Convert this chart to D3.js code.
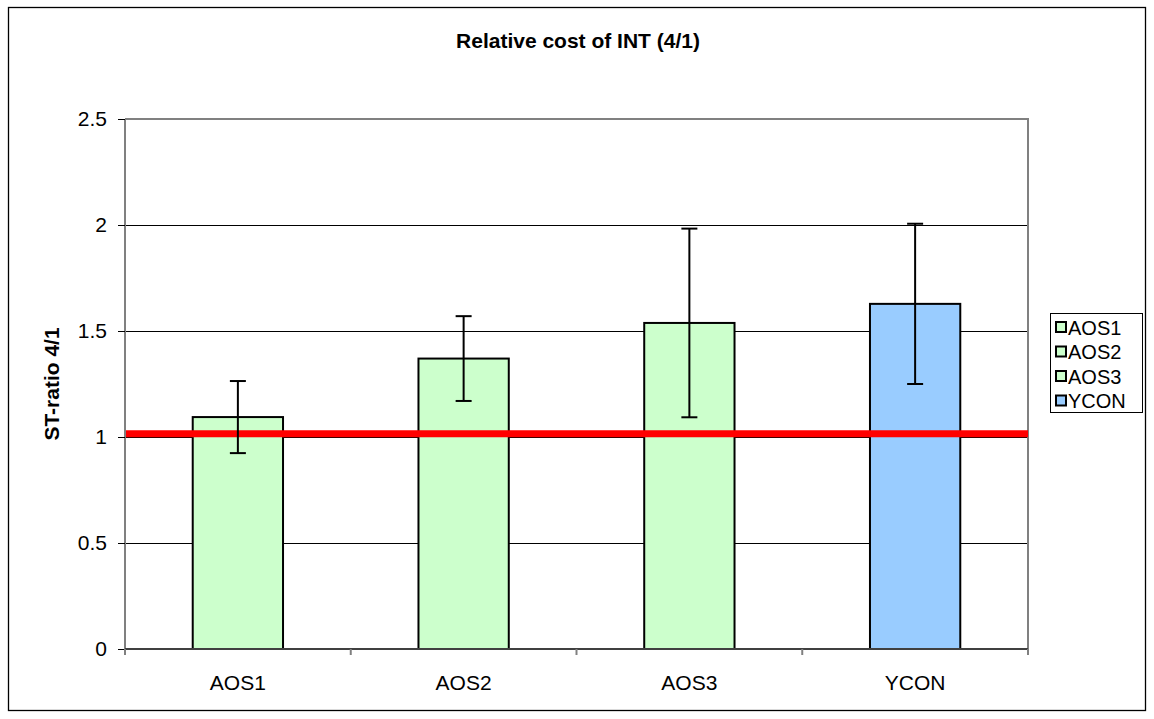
<!DOCTYPE html>
<html>
<head>
<meta charset="utf-8">
<script src="https://cdn.jsdelivr.net/npm/d3@7"></script>
<style>
  body { margin: 0; background: #fff; }
  svg { font-family: "Liberation Sans", Arial, sans-serif; }
</style>
</head>
<body>
<div id="chart"></div>
<script>
// data
const categories = ["AOS1", "AOS2", "AOS3", "YCON"];
const values = [1.094, 1.37, 1.538, 1.628];
const errors = [0.17, 0.2, 0.445, 0.378];
const barColors = ["#CCFFCC", "#CCFFCC", "#CCFFCC", "#99CCFF"];
const yTicks = [0, 0.5, 1, 1.5, 2, 2.5];
const refValue = 1.015;

const width = 1154, height = 719;
const plot = { left: 125, top: 119, right: 1028, bottom: 649 };
const fontFamily = "Liberation Sans, Arial, sans-serif";

const svg = d3.select("#chart").append("svg")
  .attr("width", width)
  .attr("height", height);

// outer frame
svg.append("rect")
  .attr("x", 8.5).attr("y", 7.5)
  .attr("width", 1137).attr("height", 703)
  .attr("fill", "#fff").attr("stroke", "#000").attr("stroke-width", 1.3);

const x = d3.scaleBand()
  .domain(categories)
  .range([plot.left, plot.right])
  .paddingInner(0.6)
  .paddingOuter(0.3);

const y = d3.scaleLinear()
  .domain([0, 2.5])
  .range([plot.bottom, plot.top]);

// gridlines
svg.append("g")
  .selectAll("line")
  .data(yTicks.filter(d => d > 0 && d < 2.5))
  .join("line")
  .attr("x1", plot.left).attr("x2", plot.right)
  .attr("y1", d => Math.round(y(d)) + 0.5).attr("y2", d => Math.round(y(d)) + 0.5)
  .attr("stroke", "#000").attr("stroke-width", 1);

// plot border top/right
svg.append("path")
  .attr("d", `M${plot.left},${plot.top}H${plot.right}V${plot.bottom}`)
  .attr("fill", "none").attr("stroke", "#808080").attr("stroke-width", 2);

// bars
svg.append("g")
  .selectAll("rect")
  .data(categories)
  .join("rect")
  .attr("x", d => x(d))
  .attr("y", (d, i) => y(values[i]))
  .attr("width", x.bandwidth())
  .attr("height", (d, i) => y(0) - y(values[i]))
  .attr("fill", (d, i) => barColors[i])
  .attr("stroke", "#000").attr("stroke-width", 2);

// reference line
svg.append("line")
  .attr("x1", plot.left).attr("x2", plot.right)
  .attr("y1", y(refValue)).attr("y2", y(refValue))
  .attr("stroke", "#FF0000").attr("stroke-width", 7);

// error bars
const err = svg.append("g").attr("stroke", "#000").attr("stroke-width", 2);
categories.forEach((c, i) => {
  const cx = x(c) + x.bandwidth() / 2;
  const hi = y(values[i] + errors[i]), lo = y(values[i] - errors[i]);
  err.append("line").attr("x1", cx).attr("x2", cx).attr("y1", hi).attr("y2", lo);
  err.append("line").attr("x1", cx - 8).attr("x2", cx + 8).attr("y1", hi).attr("y2", hi);
  err.append("line").attr("x1", cx - 8).attr("x2", cx + 8).attr("y1", lo).attr("y2", lo);
});

// y axis
const yAxis = svg.append("g")
  .attr("transform", `translate(${plot.left},0)`)
  .call(d3.axisLeft(y).tickValues(yTicks).tickSize(7).tickPadding(11).tickFormat(d3.format("")));
yAxis.select(".domain").attr("stroke", "#808080").attr("stroke-width", 2)
  .attr("d", `M0,${plot.top}V${plot.bottom}`);
yAxis.selectAll(".tick line").attr("stroke", "#000");
yAxis.selectAll(".tick text").style("font-size", "21px").style("font-family", fontFamily)
  .attr("fill", "#000");

// x axis
const xAxis = svg.append("g")
  .attr("transform", `translate(0,${plot.bottom})`)
  .call(d3.axisBottom(x).tickSize(0));
xAxis.select(".domain").attr("stroke", "#404040").attr("stroke-width", 2)
  .attr("d", `M${plot.left},0H${plot.right}`);
xAxis.selectAll(".tick text").style("font-size", "21px").style("font-family", fontFamily)
  .attr("fill", "#000").attr("y", 41).attr("dy", 0);
// category boundary ticks
const bounds = d3.range(categories.length + 1).map(i => plot.left + i * x.step());
xAxis.append("g").selectAll("line")
  .data(bounds)
  .join("line")
  .attr("x1", d => d).attr("x2", d => d)
  .attr("y1", 0).attr("y2", 6)
  .attr("stroke", "#808080").attr("stroke-width", 2);

// title
svg.append("text")
  .attr("x", 578).attr("y", 48)
  .attr("text-anchor", "middle")
  .style("font-size", "21px").attr("font-weight", "bold")
  .text("Relative cost of INT (4/1)");

// y axis title
svg.append("text")
  .attr("transform", `translate(59,${(plot.top + plot.bottom) / 2}) rotate(-90)`)
  .attr("text-anchor", "middle")
  .style("font-size", "21px").attr("font-weight", "bold")
  .text("ST-ratio 4/1");

// legend
const legend = svg.append("g").attr("transform", "translate(1050,313)");
legend.append("rect")
  .attr("x", 0.5).attr("y", 0.5).attr("width", 92).attr("height", 99)
  .attr("fill", "#fff").attr("stroke", "#000").attr("stroke-width", 1);
const item = legend.selectAll("g.item")
  .data(categories)
  .join("g")
  .attr("class", "item")
  .attr("transform", (d, i) => `translate(0,${14 + i * 24.5})`);
item.append("rect")
  .attr("x", 6).attr("y", -5).attr("width", 10).attr("height", 10)
  .attr("fill", (d, i) => barColors[i])
  .attr("stroke", "#000").attr("stroke-width", 2);
item.append("text")
  .attr("x", 18).attr("y", 7.5)
  .style("font-size", "20px")
  .text(d => d);
</script>
</body>
</html>
